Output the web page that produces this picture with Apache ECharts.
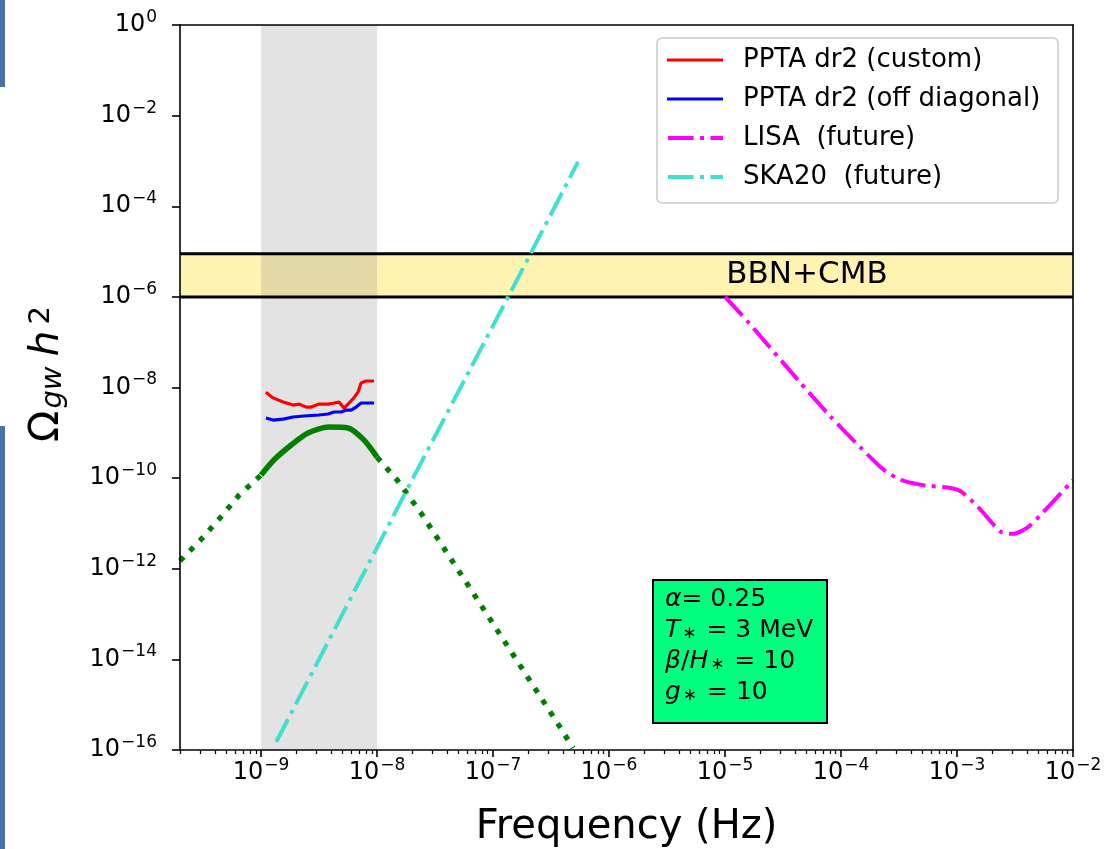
<!DOCTYPE html>
<html>
<head>
<meta charset="utf-8">
<script src="https://cdn.jsdelivr.net/npm/echarts@6/dist/echarts.min.js"></script>
<style>
  html, body { margin: 0; padding: 0; background: #ffffff; }
  #chart { width: 1106px; height: 849px; }
</style>
</head>
<body>
<div id="chart"></div>
<script>
const FONT = 'DejaVu Sans';

// Axis ticks
const xMajorTicks = [1e-9, 1e-8, 1e-7, 1e-6, 1e-5, 1e-4, 1e-3, 1e-2];
const yMajorTicks = [1e-16, 1e-14, 1e-12, 1e-10, 1e-8, 1e-6, 1e-4, 1e-2, 1];

// PPTA DR2 sensitivity (custom noise model)
const pptaCustomFreq  = [1.10e-9, 1.27e-9, 1.55e-9, 1.89e-9, 2.13e-9, 2.44e-9, 2.70e-9, 3.16e-9, 3.78e-9,
                         4.18e-9, 4.70e-9, 5.20e-9, 6.21e-9, 6.85e-9, 7.28e-9, 8.04e-9, 9.42e-9];
const pptaCustomOmega = [7.9e-9, 5.9e-9, 4.8e-9, 4.1e-9, 4.3e-9, 3.7e-9, 3.7e-9, 4.3e-9, 4.3e-9,
                         4.5e-9, 4.8e-9, 3.5e-9, 5.6e-9, 7.9e-9, 1.26e-8, 1.39e-8, 1.39e-8];

// PPTA DR2 sensitivity (off-diagonal correlations)
const pptaOffDiagFreq  = [1.10e-9, 1.27e-9, 1.55e-9, 1.89e-9, 2.35e-9, 3.16e-9, 3.78e-9, 4.26e-9,
                          4.90e-9, 5.41e-9, 5.97e-9, 6.59e-9, 7.28e-9, 8.36e-9, 9.42e-9];
const pptaOffDiagOmega = [2.12e-9, 1.91e-9, 2.01e-9, 2.23e-9, 2.35e-9, 2.47e-9, 2.60e-9, 2.88e-9,
                          2.88e-9, 3.18e-9, 3.18e-9, 3.71e-9, 4.55e-9, 4.55e-9, 4.55e-9];

// Phase-transition spectrum: inside the PTA band (solid) and outside it (dotted)
const ptLowFreq   = [2e-10, 3e-10, 4.5e-10, 6.5e-10, 1e-9];
const ptLowOmega  = [1.5e-12, 4.3e-12, 1.39e-11, 4.3e-11, 1.17e-10];
const ptMidFreq   = [1e-9, 1.29e-9, 1.82e-9, 2.54e-9, 3.85e-9, 5.62e-9, 7.73e-9, 1e-8];
const ptMidOmega  = [1.17e-10, 2.51e-10, 5.38e-10, 9.9e-10, 1.34e-9, 1.28e-9, 6.9e-10, 2.9e-10];
const ptHighFreq  = [1e-8, 1.49e-8, 2.39e-8, 6.08e-8, 1.52e-7, 3.78e-7, 4.9e-7];
const ptHighOmega = [2.9e-10, 9.1e-11, 1.7e-11, 4.37e-13, 1.17e-14, 3.2e-16, 1.1e-16];

// LISA (future)
const lisaFreq  = [1.0e-5, 1.58e-5, 4.26e-5, 8.2e-5, 1.49e-4, 2.35e-4, 3.29e-4, 4.9e-4,
                   1.02e-3, 1.52e-3, 2.39e-3, 3.04e-3, 4.09e-3, 6.08e-3, 1e-2];
const lisaOmega = [1.0e-6, 2.79e-7, 1.46e-8, 2.23e-9, 4.61e-10, 1.51e-10, 9.1e-11, 7.1e-11,
                   5.5e-11, 2.29e-11, 6.5e-12, 5.9e-12, 8.3e-12, 2.29e-11, 9.1e-11];

// SKA, 20 years (future)
const skaFreq  = [1.35e-9, 2.04e-8, 1.35e-7, 5.4e-7];
const skaOmega = [1.5e-16, 1e-10, 1e-6, 9.5e-4];

// Shaded regions
const ptaBand = [1e-9, 1e-8];
const bbnBand = [1e-6, 9e-6];

const zip = (xs, ys) => xs.map((x, i) => [x, ys[i]]);

// minor x ticks at 2..9 × 10^n inside the axis range
const xMin = 2e-10, xMax = 1e-2;
const xMinorTicks = [];
for (let e = -10; e <= -3; e++) {
  for (let m = 2; m <= 9; m++) {
    const v = m * Math.pow(10, e);
    if (v >= xMin * 0.999 && v <= xMax) xMinorTicks.push(v);
  }
}

function powLabel(v) {
  const e = Math.round(Math.log10(v));
  const s = e < 0 ? '\u2212' + (-e) : String(e);
  return '{b|10}{e|' + s + '}';
}
// both tokens share one box height so the exponent sits raised regardless of alignment
const tickRich = {
  b: { fontFamily: FONT, fontSize: 24, color: '#000', lineHeight: 24, padding: [8, 0, 8, 0] },
  e: { fontFamily: FONT, fontSize: 17, color: '#000', lineHeight: 17, padding: [4, 0, 19, 1] }
};

const DASH_DOT = [25.6, 6.4, 4, 6.4];
const DOTTED = [5.3, 8.7];

const chart = echarts.init(document.getElementById('chart'), null, { renderer: 'canvas' });

const option = {
  animation: false,
  backgroundColor: '#ffffff',
  grid: { left: 180, right: 33, top: 25, bottom: 99, containLabel: false, outerBoundsMode: 'none' },
  xAxis: [
    {
      type: 'log', min: xMin, max: xMax, position: 'bottom', z: 10,
      name: 'Frequency (Hz)', nameLocation: 'middle', nameGap: 58,
      nameTextStyle: { fontFamily: FONT, fontSize: 40, color: '#000' },
      axisLine: { show: true, lineStyle: { color: '#000', width: 1.6 } },
      axisTick: { show: true, length: 7, customValues: xMajorTicks, lineStyle: { color: '#000', width: 1.6 } },
      axisLabel: { show: true, margin: 11, customValues: xMajorTicks, formatter: powLabel, rich: tickRich },
      splitLine: { show: false }, minorTick: { show: false }
    },
    {
      type: 'log', min: xMin, max: xMax, position: 'bottom', z: 10,
      axisLine: { show: false },
      axisTick: { show: true, length: 4, customValues: xMinorTicks, lineStyle: { color: '#000', width: 1.2 } },
      axisLabel: { show: false }, splitLine: { show: false }
    },
    {
      type: 'log', min: xMin, max: xMax, position: 'top', z: 10,
      axisLine: { show: true, lineStyle: { color: '#000', width: 1.6 } },
      axisTick: { show: false }, axisLabel: { show: false }, splitLine: { show: false }
    }
  ],
  yAxis: [
    {
      type: 'log', min: 1e-16, max: 1, position: 'left', z: 10,
      axisLine: { show: true, lineStyle: { color: '#000', width: 1.6 } },
      axisTick: { show: true, length: 8, customValues: yMajorTicks, lineStyle: { color: '#000', width: 1.6 } },
      axisLabel: { show: true, margin: 23, customValues: yMajorTicks, formatter: powLabel, rich: tickRich },
      splitLine: { show: false }, minorTick: { show: false }
    },
    {
      type: 'log', min: 1e-16, max: 1, position: 'right', z: 10,
      axisLine: { show: true, lineStyle: { color: '#000', width: 1.6 } },
      axisTick: { show: false }, axisLabel: { show: false }, splitLine: { show: false }
    }
  ],
  series: [
    {
      name: 'BBN+CMB', type: 'line', data: [], z: 1, silent: true,
      markArea: {
        silent: true, z: 1,
        itemStyle: { color: 'rgba(255,215,0,0.3)' },
        data: [[{ yAxis: bbnBand[0] }, { yAxis: bbnBand[1] }]]
      }
    },
    {
      name: 'PTA band', type: 'line', data: [], z: 2, silent: true,
      markArea: {
        silent: true, z: 2,
        itemStyle: { color: 'rgba(128,128,128,0.22)' },
        data: [[{ xAxis: ptaBand[0] }, { xAxis: ptaBand[1] }]]
      }
    },
    // edges of the BBN+CMB bound
    {
      name: 'BBN lower', type: 'line', z: 3, silent: true, symbol: 'none',
      data: [[xMin, bbnBand[0]], [xMax, bbnBand[0]]],
      lineStyle: { color: '#000', width: 3 }
    },
    {
      name: 'BBN upper', type: 'line', z: 3, silent: true, symbol: 'none',
      data: [[xMin, bbnBand[1]], [xMax, bbnBand[1]]],
      lineStyle: { color: '#000', width: 3 }
    },
    {
      name: 'PT low', type: 'line', z: 3, data: zip(ptLowFreq, ptLowOmega),
      showSymbol: false, symbol: 'none',
      lineStyle: { color: '#008000', width: 5.3, type: DOTTED, cap: 'butt' }
    },
    {
      name: 'PT high', type: 'line', z: 3, data: zip(ptHighFreq, ptHighOmega),
      showSymbol: false, symbol: 'none',
      lineStyle: { color: '#008000', width: 5.3, type: DOTTED, cap: 'butt' }
    },
    {
      name: 'PT', type: 'line', z: 4, data: zip(ptMidFreq, ptMidOmega), smooth: 0.25,
      showSymbol: false, symbol: 'none',
      lineStyle: { color: '#008000', width: 5.5 }
    },
    {
      name: 'PPTA dr2 (custom)', type: 'line', z: 5, data: zip(pptaCustomFreq, pptaCustomOmega),
      showSymbol: false, symbol: 'none',
      lineStyle: { color: '#ff0000', width: 3.2 }
    },
    {
      name: 'PPTA dr2 (off diagonal)', type: 'line', z: 5, data: zip(pptaOffDiagFreq, pptaOffDiagOmega),
      showSymbol: false, symbol: 'none',
      lineStyle: { color: '#0000ff', width: 3.2 }
    },
    {
      name: 'LISA  (future)', type: 'line', z: 5, data: zip(lisaFreq, lisaOmega), smooth: 0.25,
      showSymbol: false, symbol: 'none',
      lineStyle: { color: '#ff00ff', width: 4, type: DASH_DOT, cap: 'butt' }
    },
    {
      name: 'SKA20  (future)', type: 'line', z: 5, data: zip(skaFreq, skaOmega),
      showSymbol: false, symbol: 'none',
      lineStyle: { color: '#40e0d0', width: 4, type: DASH_DOT, cap: 'butt' }
    }
  ],
  graphic: [
    // page-edge bars
    { type: 'rect', left: 0, top: 0, shape: { width: 5, height: 87 }, style: { fill: '#4a72aa' }, silent: true },
    { type: 'rect', left: 0, top: 426, shape: { width: 5, height: 423 }, style: { fill: '#4a72aa' }, silent: true },
    // BBN+CMB label
    {
      type: 'text', x: 807, y: 275, z: 20, silent: true,
      style: { text: 'BBN+CMB', fontFamily: FONT, fontSize: 31, fill: '#000', align: 'center', verticalAlign: 'middle' }
    },
    // y-axis title
    {
      type: 'text', x: 47, y: 374, rotation: Math.PI / 2, z: 20, silent: true,
      style: {
        text: '{o|\u03A9}{s|gw}{h|h}{p|2}', align: 'center', verticalAlign: 'middle',
        rich: {
          o: { fontFamily: FONT, fontSize: 41, fill: '#000', lineHeight: 41, padding: [8, 0, 8, 0] },
          s: { fontFamily: FONT, fontSize: 29, fontStyle: 'italic', fill: '#000', lineHeight: 29, verticalAlign: 'bottom', padding: [0, 10, 0, 2] },
          h: { fontFamily: FONT, fontSize: 41, fontStyle: 'italic', fill: '#000', lineHeight: 41, padding: [8, 6, 8, 0] },
          p: { fontFamily: FONT, fontSize: 29, fill: '#000', lineHeight: 29, verticalAlign: 'top', padding: [0, 0, 0, 0] }
        }
      }
    },
    // legend
    {
      type: 'group', z: 30, silent: true,
      children: [
        { type: 'rect', shape: { x: 657, y: 38, width: 401, height: 165, r: 5 },
          style: { fill: 'rgba(255,255,255,0.85)', stroke: '#cccccc', lineWidth: 1.6 } },
        { type: 'line', shape: { x1: 667, y1: 60, x2: 723, y2: 60 }, style: { stroke: '#ff0000', lineWidth: 3.2 } },
        { type: 'line', shape: { x1: 667, y1: 99, x2: 723, y2: 99 }, style: { stroke: '#0000ff', lineWidth: 3.2 } },
        { type: 'line', shape: { x1: 668, y1: 138, x2: 723, y2: 138 }, style: { stroke: '#ff00ff', lineWidth: 4, lineDash: DASH_DOT } },
        { type: 'line', shape: { x1: 668, y1: 177, x2: 723, y2: 177 }, style: { stroke: '#40e0d0', lineWidth: 4, lineDash: DASH_DOT } },
        { type: 'text', x: 743, y: 60, style: { text: 'PPTA dr2 (custom)', fontFamily: FONT, fontSize: 26, fill: '#000', verticalAlign: 'middle' } },
        { type: 'text', x: 743, y: 99, style: { text: 'PPTA dr2 (off diagonal)', fontFamily: FONT, fontSize: 26, fill: '#000', verticalAlign: 'middle' } },
        { type: 'text', x: 743, y: 138, style: { text: 'LISA  (future)', fontFamily: FONT, fontSize: 26, fill: '#000', verticalAlign: 'middle' } },
        { type: 'text', x: 743, y: 177, style: { text: 'SKA20  (future)', fontFamily: FONT, fontSize: 26, fill: '#000', verticalAlign: 'middle' } }
      ]
    },
    // parameter box
    {
      type: 'group', z: 30, silent: true,
      children: [
        { type: 'rect', shape: { x: 653, y: 580, width: 174, height: 143 },
          style: { fill: '#00ff7f', stroke: '#000', lineWidth: 2 } },
        { type: 'text', x: 665, y: 599, style: { text: '{i|\u03B1}= 0.25', verticalAlign: 'middle', fontFamily: FONT, fontSize: 25, fill: '#000',
          rich: { i: { fontFamily: FONT, fontSize: 25, fontStyle: 'italic', fill: '#000' } } } },
        { type: 'text', x: 665, y: 630, style: { text: '{i|T}{s|\u2217} = 3 MeV', verticalAlign: 'middle', fontFamily: FONT, fontSize: 25, fill: '#000',
          rich: { i: { fontFamily: FONT, fontSize: 25, fontStyle: 'italic', fill: '#000' },
                  s: { fontFamily: FONT, fontSize: 17, fill: '#000', verticalAlign: 'bottom', padding: [0, 2, 0, 2] } } } },
        { type: 'text', x: 665, y: 661, style: { text: '{i|\u03B2}/{i|H}{s|\u2217} = 10', verticalAlign: 'middle', fontFamily: FONT, fontSize: 25, fill: '#000',
          rich: { i: { fontFamily: FONT, fontSize: 25, fontStyle: 'italic', fill: '#000' },
                  s: { fontFamily: FONT, fontSize: 17, fill: '#000', verticalAlign: 'bottom', padding: [0, 2, 0, 2] } } } },
        { type: 'text', x: 665, y: 692, style: { text: '{i|g}{s|\u2217} = 10', verticalAlign: 'middle', fontFamily: FONT, fontSize: 25, fill: '#000',
          rich: { i: { fontFamily: FONT, fontSize: 25, fontStyle: 'italic', fill: '#000' },
                  s: { fontFamily: FONT, fontSize: 17, fill: '#000', verticalAlign: 'bottom', padding: [0, 2, 0, 2] } } } }
      ]
    }
  ]
};

chart.setOption(option);
</script>
</body>
</html>
